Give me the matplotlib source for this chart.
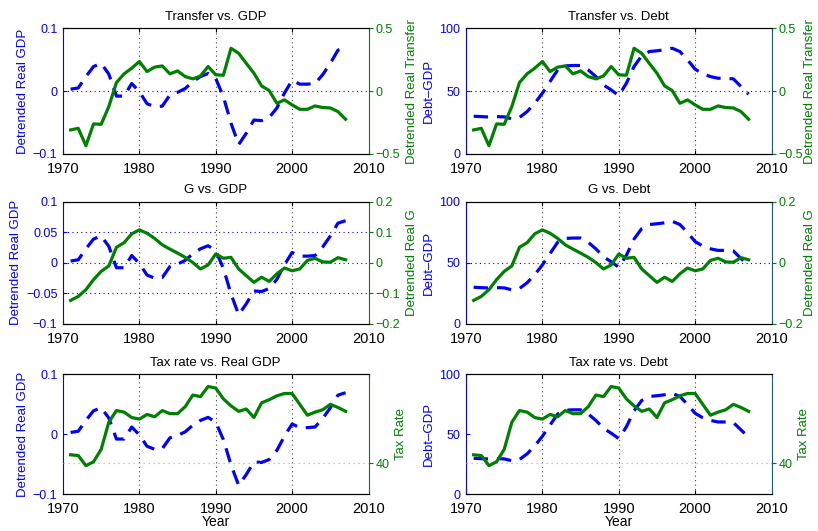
import numpy as np
import matplotlib
matplotlib.use("Agg")
import matplotlib.pyplot as plt
from matplotlib.ticker import FuncFormatter

plt.rcParams["font.family"] = ["Liberation Sans", "DejaVu Sans"]

years = list(range(1971, 2008))

# detrended real GDP (blue dashed, left column)
real_gdp = [0.003, 0.005, 0.023, 0.039, 0.044, 0.027, -0.008, -0.008, 0.012, -0.001,
            -0.020, -0.025, -0.024, -0.006, -0.002, 0.004, 0.015, 0.023, 0.028, 0.020,
            -0.009, -0.051, -0.085, -0.067, -0.046, -0.047, -0.042, -0.027, -0.003, 0.017,
            0.011, 0.011, 0.012, 0.026, 0.044, 0.065, 0.069]

# debt to GDP ratio (blue dashed, right column)
debt_gdp = [30.0, 29.7, 29.4, 29.7, 29.5, 27.9, 29.0, 33.7, 40.3, 48.3,
            57.6, 66.8, 70.0, 70.3, 70.3, 66.8, 61.5, 54.9, 50.9, 46.4,
            56.2, 69.5, 78.0, 81.4, 82.0, 82.8, 84.0, 81.4, 74.8, 67.4,
            63.7, 61.5, 60.2, 60.2, 59.7, 53.6, 47.5]

# detrended real transfers
transfer = [-0.309, -0.296, -0.434, -0.261, -0.264, -0.123, 0.068, 0.137, 0.182, 0.235,
            0.155, 0.190, 0.200, 0.137, 0.160, 0.115, 0.097, 0.120, 0.195, 0.129,
            0.126, 0.340, 0.300, 0.220, 0.142, 0.041, 0.004, -0.097, -0.070, -0.110,
            -0.145, -0.145, -0.118, -0.131, -0.134, -0.163, -0.224]

# detrended real government spending
gov = [-0.123, -0.110, -0.088, -0.055, -0.028, -0.010, 0.051, 0.066, 0.095, 0.108,
       0.097, 0.080, 0.059, 0.045, 0.032, 0.018, 0.001, -0.020, -0.007, 0.029,
       0.015, 0.018, -0.020, -0.042, -0.064, -0.047, -0.061, -0.036, -0.017, -0.026,
       -0.020, 0.008, 0.015, 0.003, 0.002, 0.017, 0.010]

# tax rate (percent)
tax_rate = [41.1, 41.0, 39.7, 40.2, 41.8, 45.3, 46.8, 46.6, 45.9, 45.7,
            46.3, 46.0, 46.8, 46.4, 46.4, 47.3, 48.8, 48.6, 49.9, 49.7,
            48.3, 47.4, 46.7, 47.0, 45.9, 47.8, 48.2, 48.7, 49.0, 49.0,
            47.6, 46.2, 46.6, 46.9, 47.6, 47.2, 46.7]

BLUE = "#0000ff"
GREEN = "#008000"
TEAL = "#1b5a6e"

fig = plt.figure(figsize=(8.18, 5.31), dpi=100)

col_left = [0.077, 0.5697]
col_w = 0.3735
rows = [(0.710, 0.237), (0.390, 0.230), (0.069, 0.2265)]

tick_fmt = FuncFormatter(lambda v, pos: f"{v:g}".replace("-", "\u2212"))


def make_panel(rect, left_data, right_data, title, left_label, right_label,
               left_lim, left_ticks, right_lim, right_ticks, left_grid,
               right_spine=GREEN, right_pad=4, xlabel=None):
    ax = fig.add_axes(rect)
    ax2 = ax.twinx()

    ax.plot(years, left_data, color=BLUE, lw=2.3, ls=(0, (4.5, 2.8)))
    ax2.plot(years, right_data, color=GREEN, lw=2.3)

    ax.set_xlim(1970, 2010)
    ax.set_xticks([1970, 1980, 1990, 2000, 2010])
    ax.set_ylim(*left_lim)
    ax.set_yticks(left_ticks)
    ax2.set_ylim(*right_lim)
    ax2.set_yticks(right_ticks)
    ax.yaxis.set_major_formatter(tick_fmt)
    ax2.yaxis.set_major_formatter(tick_fmt)

    # dotted grid
    for yr in [1980, 1990, 2000]:
        ax.axvline(yr, color="#444444", lw=0.8, ls=(0, (1, 3)), zorder=0)
    if left_grid:
        for t in left_ticks:
            if left_lim[0] < t < left_lim[1]:
                ax.axhline(t, color=BLUE, lw=0.8, ls=(0, (1, 3)), zorder=0)
    else:
        for t in right_ticks:
            if right_lim[0] < t < right_lim[1]:
                ax2.axhline(t, color="#99cc99", lw=0.9, ls=(0, (1, 3)), zorder=0)

    ax.tick_params(axis="x", direction="in", top=True, labelsize=10.5, length=3, pad=5.5)
    ax.tick_params(axis="y", direction="in", colors=BLUE, labelsize=9, length=3,
                   right=False, pad=4)
    ax2.tick_params(axis="y", direction="out", colors=GREEN, labelsize=9, length=3, pad=2)
    for lab in ax.get_xticklabels():
        lab.set_color("black")

    ax.spines["left"].set_color(BLUE)
    ax.spines["right"].set_visible(False)
    ax2.spines["left"].set_visible(False)
    ax2.spines["right"].set_color(right_spine)

    ax.set_title(title, fontsize=9.5, pad=6)
    ax.set_ylabel(left_label, color=BLUE, fontsize=9.5, labelpad=3)
    ax2.set_ylabel(right_label, color=GREEN, fontsize=9.5, labelpad=right_pad)
    if xlabel:
        ax.set_xlabel(xlabel, fontsize=10, labelpad=-0.5)
    return ax, ax2


make_panel([col_left[0], rows[0][0], col_w, rows[0][1]], real_gdp, transfer,
           "Transfer vs. GDP", "Detrended Real GDP", "Detrended Real Transfer",
           (-0.1, 0.1), [-0.1, 0, 0.1], (-0.5, 0.5), [-0.5, 0, 0.5], True)
make_panel([col_left[1], rows[0][0], col_w, rows[0][1]], debt_gdp, transfer,
           "Transfer vs. Debt", "Debt\u2013GDP", "Detrended Real Transfer",
           (0, 100), [0, 50, 100], (-0.5, 0.5), [-0.5, 0, 0.5], True,
           right_spine=TEAL, right_pad=1)
make_panel([col_left[0], rows[1][0], col_w, rows[1][1]], real_gdp, gov,
           "G vs. GDP", "Detrended Real GDP", "Detrended Real G",
           (-0.1, 0.1), [-0.1, -0.05, 0, 0.05, 0.1], (-0.2, 0.2), [-0.2, -0.1, 0, 0.1, 0.2], True)
make_panel([col_left[1], rows[1][0], col_w, rows[1][1]], debt_gdp, gov,
           "G vs. Debt", "Debt\u2013GDP", "Detrended Real G",
           (0, 100), [0, 50, 100], (-0.2, 0.2), [-0.2, 0, 0.2], True,
           right_spine=TEAL, right_pad=1)
make_panel([col_left[0], rows[2][0], col_w, rows[2][1]], real_gdp, tax_rate,
           "Tax rate vs. Real GDP", "Detrended Real GDP", "Tax Rate",
           (-0.1, 0.1), [-0.1, 0, 0.1], (36, 51.5), [40], False, xlabel="Year")
make_panel([col_left[1], rows[2][0], col_w, rows[2][1]], debt_gdp, tax_rate,
           "Tax rate vs. Debt", "Debt\u2013GDP", "Tax Rate",
           (0, 100), [0, 50, 100], (36, 51.5), [40], False,
           right_spine=TEAL, xlabel="Year")

fig.savefig("out.png", dpi=100)
